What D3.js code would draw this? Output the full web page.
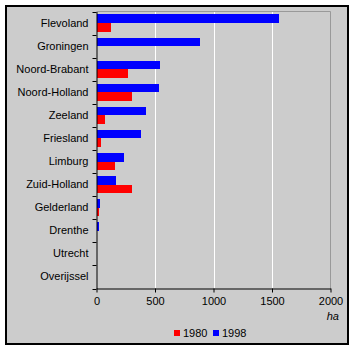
<!DOCTYPE html>
<html>
<head>
<meta charset="utf-8">
<script src="https://cdn.jsdelivr.net/npm/d3@7"></script>
<style>
  body { margin: 0; background: #fff; }
  svg { display: block; font-family: "Liberation Sans", Arial, sans-serif; }
</style>
</head>
<body>
<div id="chart"></div>
<script>
const provinces = ["Flevoland", "Groningen", "Noord-Brabant", "Noord-Holland", "Zeeland", "Friesland",
  "Limburg", "Zuid-Holland", "Gelderland", "Drenthe", "Utrecht", "Overijssel"];
const years = ["1980", "1998"];
const values1980 = [124, 0, 270, 304, 73, 39, 158, 304, 21, 0, 0, 0];
const values1998 = [1563, 886, 544, 535, 424, 381, 235, 167, 30, 21, 0, 0];
const xTicks = [0, 500, 1000, 1500, 2000];
const colors = { "1980": "#ff0000", "1998": "#0000ff" };

const width = 355, height = 351;
const plotLeft = 96.5, plotRight = 330.5, plotTop = 11.5, plotBottom = 288.5;

const svg = d3.select("#chart").append("svg")
  .attr("width", width)
  .attr("height", height);

// outer frame
svg.append("rect")
  .attr("x", 6).attr("y", 6)
  .attr("width", 342).attr("height", 338)
  .attr("fill", "#cccccc")
  .attr("stroke", "#000").attr("stroke-width", 2);

const x = d3.scaleLinear().domain([0, 2000]).range([plotLeft, plotRight]);
const y = d3.scaleBand().domain(provinces).range([plotTop, plotBottom]);
const sub = d3.scaleBand().domain(["1998", "1980"]).range([0, y.bandwidth()]).paddingOuter(0.35).paddingInner(0);

// gridlines
svg.append("g").selectAll("line")
  .data(xTicks.filter(t => t > 0 && t < 2000))
  .join("line")
  .attr("x1", d => Math.round(x(d)) + 0.5).attr("x2", d => Math.round(x(d)) + 0.5)
  .attr("y1", plotTop).attr("y2", plotBottom)
  .attr("stroke", "#fff");

// plot border top/right in grey
svg.append("path")
  .attr("d", `M${plotLeft},${plotTop}H${plotRight}V${plotBottom}`)
  .attr("fill", "none")
  .attr("stroke", "#999999");

const rows = provinces.map((p, i) => ({ p, v: { "1980": values1980[i], "1998": values1998[i] } }));

svg.append("g").selectAll("g")
  .data(rows)
  .join("g")
  .attr("transform", d => `translate(0,${y(d.p)})`)
  .selectAll("rect")
  .data(d => years.map(k => ({ k, v: d.v[k] })))
  .join("rect")
  .attr("x", x(0))
  .attr("y", d => sub(d.k))
  .attr("width", d => x(d.v) - x(0))
  .attr("height", sub.bandwidth())
  .attr("fill", d => colors[d.k])
  .attr("shape-rendering", "crispEdges");

// y axis
const yAxis = svg.append("g")
  .attr("transform", `translate(${plotLeft},0)`)
  .call(d3.axisLeft(y).tickSize(0).tickPadding(8));
yAxis.select(".domain").attr("stroke", "#000");
yAxis.selectAll("text").attr("font-size", 11).attr("fill", "#000").attr("font-family", "Liberation Sans, Arial, sans-serif");
// category separator ticks
svg.append("g").selectAll("line")
  .data(d3.range(provinces.length + 1))
  .join("line")
  .attr("x1", plotLeft - 4).attr("x2", plotLeft)
  .attr("y1", i => Math.round(plotTop + i * y.step()) + 0.5).attr("y2", i => Math.round(plotTop + i * y.step()) + 0.5)
  .attr("stroke", "#000");

// x axis
const xAxis = svg.append("g")
  .attr("transform", `translate(0,${plotBottom})`)
  .call(d3.axisBottom(x).tickValues(xTicks).tickFormat(d3.format("d")).tickSize(4).tickSizeOuter(0).tickPadding(5));
xAxis.select(".domain").attr("stroke", "#000");
xAxis.selectAll("line").attr("stroke", "#000");
xAxis.selectAll("text").attr("font-size", 11).attr("fill", "#000").attr("font-family", "Liberation Sans, Arial, sans-serif");

svg.append("text")
  .attr("x", 339).attr("y", 320)
  .attr("text-anchor", "end")
  .attr("font-size", 11)
  .attr("font-style", "italic")
  .text("ha");

// legend
const legend = svg.append("g").attr("transform", "translate(174,333)");
const lg = legend.selectAll("g").data(years).join("g")
  .attr("transform", (d, i) => `translate(${i * 39},0)`);
lg.append("rect")
  .attr("x", 0).attr("y", -3).attr("width", 6).attr("height", 6)
  .attr("fill", d => colors[d]);
lg.append("text")
  .attr("x", 9).attr("y", 4)
  .attr("font-size", 11)
  .text(d => d);
</script>
</body>
</html>
